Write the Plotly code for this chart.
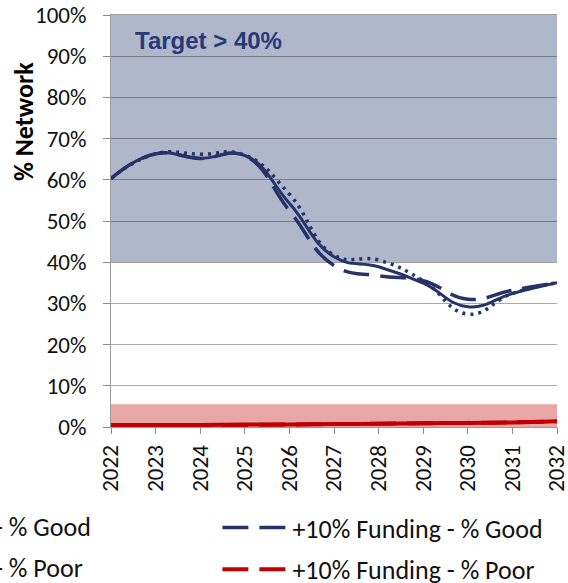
"""
Network condition forecast: % Good / % Poor under funding scenarios
"""

import plotly.graph_objects as go

# ---- data ----
years = [2022, 2023, 2024, 2025, 2026, 2027, 2028, 2029, 2030, 2031, 2032]

good_current = [60.3, 66.3, 65.2, 65.9, 54.3, 41.3, 38.9, 34.9, 29.2, 32.4, 35.0]
good_dotted = [60.3, 66.3, 66.2, 66.0, 56.5, 41.7, 40.5, 35.5, 27.4, 32.4, 35.0]
good_plus10 = [60.3, 66.3, 65.2, 65.8, 52.5, 39.2, 36.7, 35.5, 31.0, 33.2, 35.0]

poor_current = [0.5, 0.5, 0.5, 0.6, 0.6, 0.7, 0.8, 0.9, 1.0, 1.1, 1.4]
poor_plus10 = [0.5, 0.5, 0.5, 0.5, 0.6, 0.7, 0.8, 0.9, 1.0, 1.1, 1.4]

y_ticks = [0, 10, 20, 30, 40, 50, 60, 70, 80, 90, 100]
y_tick_labels = [f"{v}%" for v in y_ticks]

TARGET_GOOD = 40
TARGET_POOR = 5.5

NAVY = "#253369"
RED = "#c00000"
FONT = "Carlito, Lato, sans-serif"

fig = go.Figure()

# target bands
fig.add_shape(type="rect", xref="x", yref="y", x0=years[0], x1=years[-1],
              y0=TARGET_GOOD, y1=100, fillcolor="#b1b7cb", line_width=0,
              layer="below")
fig.add_shape(type="rect", xref="x", yref="y", x0=years[0], x1=years[-1],
              y0=0, y1=TARGET_POOR, fillcolor="#e8a6a7", line_width=0,
              layer="below")

# % Good
fig.add_trace(go.Scatter(x=years, y=good_dotted, mode="lines",
                         line=dict(color=NAVY, width=3.5, dash="3px,5px",
                                   shape="spline", smoothing=1.3),
                         showlegend=False))
fig.add_trace(go.Scatter(x=years, y=good_current, mode="lines",
                         line=dict(color=NAVY, width=3, shape="spline",
                                   smoothing=1.3),
                         showlegend=False))
fig.add_trace(go.Scatter(x=years, y=good_plus10, mode="lines",
                         name="+10% Funding - % Good",
                         line=dict(color=NAVY, width=3.5, dash="26px,11px",
                                   shape="spline", smoothing=1.3),
                         legend="legend2", legendgroup="g"))

# % Poor
fig.add_trace(go.Scatter(x=years, y=poor_current, mode="lines",
                         line=dict(color=RED, width=4, shape="spline"),
                         showlegend=False))
fig.add_trace(go.Scatter(x=years, y=poor_plus10, mode="lines",
                         name="+10% Funding - % Poor",
                         line=dict(color=RED, width=4, dash="26px,11px",
                                   shape="spline"),
                         legend="legend2", legendgroup="p"))

# left legend column (clipped at the image edge in the reference)
for txt, ypx in [("- % Good", 527), ("- % Poor", 568)]:
    fig.add_annotation(text=txt, xref="paper", yref="paper",
                       x=(-8 - 110.5) / 446.5, y=(427 - ypx) / 412,
                       xanchor="left", yanchor="middle", showarrow=False,
                       font=dict(family=FONT, size=26, color="#111111"))

fig.add_annotation(text="<b>Target > 40%</b>", xref="paper", yref="paper",
                   x=0.05, y=(427 - 41) / 412, xanchor="left",
                   yanchor="middle", showarrow=False,
                   font=dict(family="Liberation Sans, Arial", size=24,
                             color="#273a78"))

fig.add_annotation(text="<b>% Network</b>", xref="paper", yref="paper",
                   x=(23 - 110.5) / 446.5, y=(427 - 121.5) / 412,
                   xanchor="center", yanchor="middle",
                   textangle=-90, showarrow=False,
                   font=dict(family=FONT, size=26, color="#000000"))

fig.update_layout(
    width=568, height=583,
    margin=dict(l=110.5, r=11, t=15, b=156, autoexpand=False),
    plot_bgcolor="white", paper_bgcolor="white",
    font=dict(family=FONT, size=23, color="#111111"),
    legend2=dict(x=(217 - 110.5) / 446.5, y=(427 - 504) / 412,
                 xanchor="left", yanchor="top", itemwidth=65,
                 tracegroupgap=5, traceorder="grouped",
                 font=dict(family=FONT, size=26, color="#111111"),
                 bgcolor="rgba(0,0,0,0)"),
)

fig.update_xaxes(range=[years[0], years[-1]], tickvals=years,
                 tickangle=-90, ticks="outside", ticklen=6,
                 tickcolor="#8c8c8c", showgrid=False, zeroline=False,
                 showline=True, linecolor="#9a9a9a", mirror=True,
                 ticklabelstandoff=2, ticklabeloverflow="allow")
fig.update_yaxes(range=[0, 100], tickvals=y_ticks, ticktext=y_tick_labels,
                 ticks="outside", ticklen=7, tickcolor="#8c8c8c",
                 showgrid=True, gridcolor="rgba(0,0,0,0.33)", gridwidth=1.3,
                 zeroline=False, showline=True, linecolor="#9a9a9a",
                 ticklabelstandoff=12)

# page body has a default 8px margin; drop it so the chart fills the window
fig.write_html("out.html", config={"displayModeBar": False},
               post_script="document.body.style.margin='0px';")
